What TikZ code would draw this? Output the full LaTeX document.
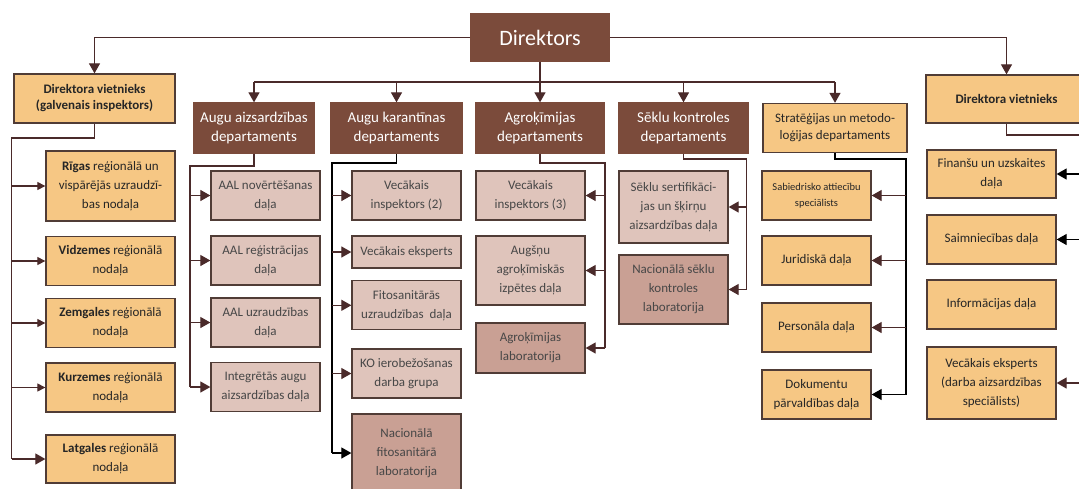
\documentclass[tikz,border=0pt]{standalone}
\usepackage{fontspec}
\setmainfont{Carlito}
\usetikzlibrary{arrows.meta}
\definecolor{dark}{HTML}{7B4B3B}
\definecolor{orng}{HTML}{F6C784}
\definecolor{pinkl}{HTML}{DFC4BB}
\definecolor{pinkd}{HTML}{C9A094}
\definecolor{bordc}{HTML}{503C36}
\definecolor{lnc}{HTML}{4A2A2A}
\definecolor{txt}{HTML}{262626}
\begin{document}
\begin{tikzpicture}[x=1pt,y=-1pt,
  conn/.style={draw=lnc, line width=1.2pt},
  arr/.style={conn, -{Triangle[length=10pt,width=11pt]}},
  sarr/.style={conn, -{Triangle[length=8pt,width=8pt]}},
  base/.style={inner sep=0pt, align=center, font=\fontsize{13}{19}\selectfont, text=txt, draw=bordc, line width=1.3pt},
  wh/.style 2 args={minimum width=#1, minimum height=#2},
  dept/.style={base, fill=dark, draw=dark, text=white, font=\fontsize{15}{19}\selectfont},
  org/.style={base, fill=orng},
  pnk/.style={base, fill=pinkl, text=txt!85},
  pnkd/.style={base, fill=pinkd, text=txt!85},
]
\useasboundingbox (0,0) rectangle (1079,488);
\clip (0,0) rectangle (1079,488);
\fill[white] (0,0) rectangle (1079,488);

% top level
\node[dept, font=\fontsize{22}{26}\selectfont, wh={138}{47}] (dir) at (540,37.5) {Direktors};
\node[org, wh={161}{49}, font=\bfseries\fontsize{13}{16}\selectfont] (dvl) at (94.5,98.5) {Direktora vietnieks\\(galvenais inspektors)};
\node[org, wh={161}{48}, font=\bfseries\fontsize{13}{16}\selectfont] (dvr) at (1006.5,99) {Direktora vietnieks};

% departments
\node[dept, wh={121}{50}] (aiz) at (254,128) {Augu aizsardzības\\departaments};
\node[dept, wh={131}{50}] (kar) at (396.5,128) {Augu karantīnas\\departaments};
\node[dept, wh={128}{50}] (agr) at (540,128) {Agroķīmijas\\departaments};
\node[dept, wh={129}{50}] (sek) at (683.5,128) {Sēklu kontroles\\departaments};
\node[org, wh={144}{49}, font=\fontsize{13}{17}\selectfont] (str) at (835,128) {Stratēģijas un metodo-\\loģijas departaments};

% left column
\node[org, wh={129}{70}] (l1) at (110.5,186) {\textbf{Rīgas} reģionālā un\\vispārējās uzraudzī-\\bas nodaļa};
\node[org, wh={129}{49}] (l2) at (110.5,261) {\textbf{Vidzemes} reģionālā\\nodaļa};
\node[org, wh={129}{49}] (l3) at (110.5,323) {\textbf{Zemgales} reģionālā\\nodaļa};
\node[org, wh={129}{49}] (l4) at (110.5,387.5) {\textbf{Kurzemes} reģionālā\\nodaļa};
\node[org, wh={129}{48}] (l5) at (110.5,459) {\textbf{Latgales} reģionālā\\nodaļa};

% augu aizsardzibas
\node[pnk, wh={109}{49}] (a1) at (265.5,195.5) {AAL novērtēšanas\\daļa};
\node[pnk, wh={109}{49}] (a2) at (265.5,260.5) {AAL reģistrācijas\\daļa};
\node[pnk, wh={109}{49}] (a3) at (265.5,322.5) {AAL uzraudzības\\daļa};
\node[pnk, wh={109}{49}] (a4) at (265.5,387) {Integrētās augu\\aizsardzības daļa};

% augu karantinas
\node[pnk, wh={109}{49}] (k1) at (406.5,195.5) {Vecākais\\inspektors (2)};
\node[pnk, wh={109}{32}] (k2) at (406.5,252) {Vecākais eksperts};
\node[pnk, wh={109}{49}] (k3) at (406.5,305.3) {Fitosanitārās\\uzraudzības\ \ daļa};
\node[pnk, wh={109}{49}] (k4) at (406.5,373.5) {KO ierobežošanas\\darba grupa};
\node[pnkd, wh={109}{78}] (k5) at (406.5,453) {Nacionālā\\fitosanitārā\\laboratorija};

% agrokimijas
\node[pnk, wh={109}{49}] (g1) at (530.5,195.5) {Vecākais\\inspektors (3)};
\node[pnk, wh={109}{69}] (g2) at (530.5,270.5) {Augšņu\\agroķīmiskās\\izpētes daļa};
\node[pnkd, wh={109}{50}] (g3) at (530.5,348) {Agroķīmijas\\laboratorija};

% seklu
\node[pnk, wh={109}{72}] (s1) at (673.5,207) {Sēklu sertifikāci-\\jas un šķirņu\\aizsardzības daļa};
\node[pnkd, wh={109}{69}] (s2) at (673.5,289.5) {Nacionālā sēklu\\kontroles\\laboratorija};

% strategijas
\node[org, wh={109}{49}, font=\fontsize{10.5}{16}\selectfont] (t1) at (816.5,195.5) {Sabiedrisko attiecību\\speciālists};
\node[org, wh={109}{49}] (t2) at (816.5,260.5) {Juridiskā daļa};
\node[org, wh={109}{49}] (t3) at (816.5,327.5) {Personāla daļa};
\node[org, wh={109}{49}] (t4) at (816.5,394.5) {Dokumentu\\pārvaldības daļa};

% right column
\node[org, wh={129}{48}] (r1) at (991.5,174) {Finanšu un uzskaites\\daļa};
\node[org, wh={129}{49}] (r2) at (991.5,239.5) {Saimniecības daļa};
\node[org, wh={129}{49}] (r3) at (991.5,304.5) {Informācijas daļa};
\node[org, wh={129}{72}] (r4) at (991.5,383) {Vecākais eksperts\\(darba aizsardzības\\speciālists)};

% director connectors
\draw[arr] (dir.west) -| (dvl.north);
\draw[arr] (dir.east) -| (dvr.north);
\coordinate (bar) at (540,82);
\draw[conn] (aiz.north |- bar) -- (str.north |- bar);
\draw[arr] (dir.south) -- (agr.north);
\foreach \n in {aiz,kar,sek,str} \draw[arr] (\n.north |- bar) -- (\n.north);

% left trunk
\coordinate (tl) at (11.7,138);
\draw[conn] (dvl.south) |- (tl) -- (tl |- l5.west);
\foreach \n in {l1,l2,l3,l4} \draw[sarr] (tl |- \n.west) -- (\n.west);
\draw[arr] (tl |- l5.west) -- (l5.west);

% aizsardzibas trunk
\coordinate (ta) at (190,166);
\draw[conn] (aiz.south) |- (ta) -- (ta |- a4.west);
\foreach \n in {a1,a2,a3,a4} \draw[arr] (ta |- \n.west) -- (\n.west);

% karantinas trunk
\coordinate (tk) at (332,163);
\draw[conn, draw=black] (kar.south) |- (tk) -- (tk |- k5.west);
\foreach \n in {k1,k2,k3,k4} \draw[arr] (tk |- \n.west) -- (\n.west);
\draw[arr, draw=black] (tk |- k5.west) -- (k5.west);

% agrokimijas trunk
\coordinate (tg) at (605,163);
\draw[conn] (agr.south) |- (tg) -- (tg |- g3.east);
\foreach \n in {g1,g2,g3} \draw[arr] (tg |- \n.east) -- (\n.east);

% seklu trunk
\coordinate (ts) at (746.7,159);
\draw[conn] (sek.south) |- (ts) -- (ts |- s2.east);
\foreach \n in {s1,s2} \draw[arr] (ts |- \n.east) -- (\n.east);

% strategijas trunk
\coordinate (tt) at (906,159);
\draw[conn, draw=black] (str.south) |- (tt) -- (tt |- t4.east);
\foreach \n in {t1,t2,t3} \draw[arr] (tt |- \n.east) -- (\n.east);
\draw[arr, draw=black] (tt |- t4.east) -- (t4.east);

% right trunk
\coordinate (tr) at (1095,135);
\draw[conn] (dvr.south) |- (tr) -- (tr |- r4.east);
\draw[arr, draw=black] (tr |- r1.east) -- (r1.east);
\draw[arr, draw=black] (tr |- r2.east) -- (r2.east);
\draw[arr] (tr |- r4.east) -- (r4.east);
\end{tikzpicture}
\end{document}
